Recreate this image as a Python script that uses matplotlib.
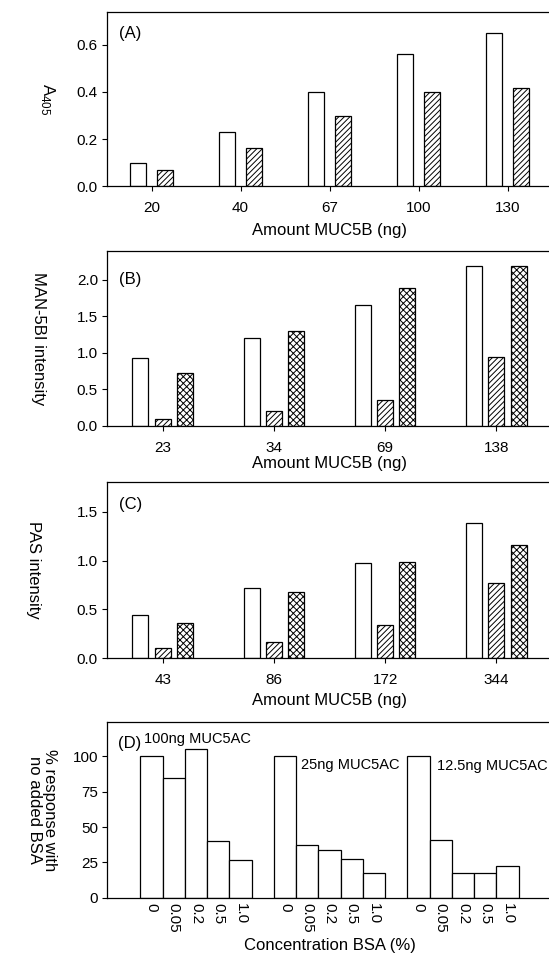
import numpy as np
import matplotlib
matplotlib.use('Agg')
import matplotlib.pyplot as plt

plt.rcParams['font.family'] = ['Liberation Sans', 'DejaVu Sans']
plt.rcParams['mathtext.default'] = 'regular'
plt.rcParams['hatch.linewidth'] = 0.7

# panel A
a_labels = ['20', '40', '67', '100', '130']
a_open = [0.10, 0.23, 0.40, 0.56, 0.65]
a_hatch = [0.07, 0.16, 0.30, 0.40, 0.415]

# panel B
b_labels = ['23', '34', '69', '138']
b_open = [0.93, 1.20, 1.65, 2.19]
b_hatch = [0.10, 0.20, 0.36, 0.94]
b_cross = [0.72, 1.30, 1.89, 2.19]

# panel C
c_labels = ['43', '86', '172', '344']
c_open = [0.44, 0.72, 0.98, 1.38]
c_hatch = [0.11, 0.17, 0.34, 0.77]
c_cross = [0.36, 0.68, 0.99, 1.16]

# panel D
d_conc = ['0', '0.05', '0.2', '0.5', '1.0']
d_groups = ['100ng MUC5AC', '25ng MUC5AC', '12.5ng MUC5AC']
d_vals = [[100, 85, 105, 40, 26.5],
          [100, 37.5, 34, 27.5, 17.5],
          [100, 40.5, 17.5, 17.5, 22.5]]

FS_TICK = 11
FS_LAB = 12
FS_TXT = 10.5

fig = plt.figure(figsize=(5.49, 9.57), dpi=100)
left, width = 0.1949, 0.8106
axA = fig.add_axes([left, 0.8056, width, 0.1818])
axB = fig.add_axes([left, 0.5549, width, 0.1832])
axC = fig.add_axes([left, 0.3121, width, 0.1839])
axD = fig.add_axes([left, 0.0620, width, 0.1831])


def style(ax):
    for s in ['left', 'bottom', 'top']:
        ax.spines[s].set_linewidth(0.9)
    ax.spines['right'].set_visible(False)
    ax.tick_params(direction='out', length=3.5, width=0.8, labelsize=FS_TICK, pad=3)
    ax.tick_params(axis='x', pad=7)


kw = dict(edgecolor='black', linewidth=0.9)

# A
x = np.arange(len(a_labels))
axA.bar(x - 0.15, a_open, 0.175, color='white', **kw)
axA.bar(x + 0.15, a_hatch, 0.175, color='white', hatch='//////', **kw)
axA.set_xlim(-0.5, len(a_labels) - 0.5)
axA.set_ylim(0, 0.74)
axA.set_yticks([0, 0.2, 0.4, 0.6])
axA.set_yticklabels(['0.0', '0.2', '0.4', '0.6'])
axA.set_xticks(x)
axA.set_xticklabels(a_labels)
style(axA)
axA.set_xlabel('Amount MUC5B (ng)', fontsize=FS_LAB)
axA.xaxis.set_label_coords(0.5, -0.215)
axA.set_ylabel('A$_{405}$', fontsize=FS_LAB, rotation=270, va='center', ha='center')
axA.yaxis.set_label_coords(-0.133, 0.5)
axA.text(0.027, 0.874, '(A)', transform=axA.transAxes, fontsize=FS_LAB, va='center')

# B and C
def triple(ax, labels, o, h, c, ymax, ticks, letter, ylab, ylx, xly, ly):
    x = np.arange(len(labels))
    ax.bar(x - 0.2, o, 0.144, color='white', **kw)
    ax.bar(x, h, 0.144, color='white', hatch='//////', **kw)
    ax.bar(x + 0.2, c, 0.144, color='white', hatch='xxxxx', **kw)
    ax.set_xlim(-0.5, len(labels) - 0.5)
    ax.set_ylim(0, ymax)
    ax.set_yticks(ticks)
    ax.set_yticklabels(['%.1f' % t for t in ticks])
    ax.set_xticks(x)
    ax.set_xticklabels(labels)
    style(ax)
    ax.set_xlabel('Amount MUC5B (ng)', fontsize=FS_LAB)
    ax.xaxis.set_label_coords(0.5, xly)
    ax.set_ylabel(ylab, fontsize=FS_LAB, rotation=270, va='center', ha='center')
    ax.yaxis.set_label_coords(ylx, 0.5)
    ax.text(0.027, ly, letter, transform=ax.transAxes, fontsize=FS_LAB, va='center')


triple(axB, b_labels, b_open, b_hatch, b_cross, 2.4, [0, 0.5, 1.0, 1.5, 2.0],
       '(B)', 'MAN-5BI intensity', -0.154, -0.17, 0.836)
triple(axC, c_labels, c_open, c_hatch, c_cross, 1.8, [0, 0.5, 1.0, 1.5],
       '(C)', 'PAS intensity', -0.166, -0.195, 0.874)

# D
pos = []
vals = []
for g, row in enumerate(d_vals):
    for i, v in enumerate(row):
        pos.append(g * 6 + i)
        vals.append(v)
axD.bar(pos, vals, 1.0, color='white', **kw)
axD.set_xlim(-2, 18)
axD.set_ylim(0, 124)
axD.set_yticks([0, 25, 50, 75, 100])
axD.set_xticks(pos)
axD.set_xticklabels(d_conc * len(d_groups), rotation=270)
style(axD)
axD.tick_params(axis='x', length=0, pad=4)
axD.set_xlabel('Concentration BSA (%)', fontsize=FS_LAB)
axD.xaxis.set_label_coords(0.5, -0.232)
axD.set_ylabel('% response with\nno added BSA', fontsize=FS_LAB, rotation=270,
               va='center', ha='center', linespacing=1.0)
axD.yaxis.set_label_coords(-0.145, 0.5)
axD.text(0.025, 0.878, '(D)', transform=axD.transAxes, fontsize=FS_LAB, va='center')
axD.text(0.084, 0.905, d_groups[0], transform=axD.transAxes, fontsize=FS_TXT, va='center')
axD.text(0.436, 0.757, d_groups[1], transform=axD.transAxes, fontsize=FS_TXT, va='center')
axD.text(0.741, 0.753, d_groups[2], transform=axD.transAxes, fontsize=FS_TXT, va='center')

fig.savefig('out.png', dpi=100)
